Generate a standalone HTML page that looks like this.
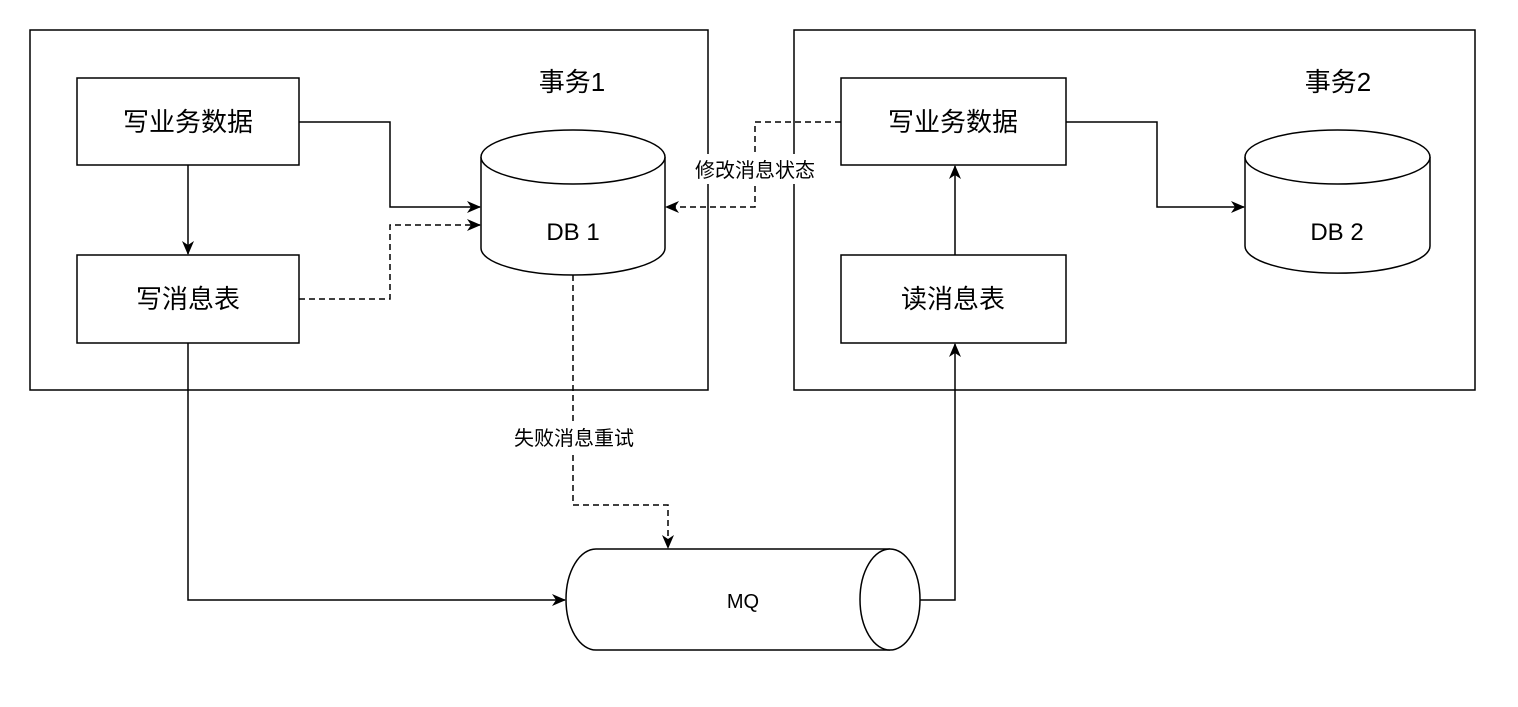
<!DOCTYPE html>
<html><head><meta charset="utf-8"><style>
html,body{margin:0;padding:0;background:#fff;}
text{font-family:"Liberation Sans","Noto Sans CJK SC",sans-serif;fill:#000;}
</style></head><body>
<svg width="1518" height="702" viewBox="0 0 1518 702" xmlns="http://www.w3.org/2000/svg">
<defs>
<marker id="a" markerWidth="14" markerHeight="12" refX="13" refY="6" orient="auto" markerUnits="userSpaceOnUse">
<path d="M0,0 L14,6 L0,12 L4,6 Z" fill="#000"/></marker>
</defs>
<g fill="none" stroke="#000" stroke-width="1.5">
<rect x="30" y="30" width="678" height="360"/>
<rect x="794" y="30" width="681" height="360"/>
<rect x="77" y="78" width="222" height="87" fill="#fff"/>
<rect x="77" y="255" width="222" height="88" fill="#fff"/>
<rect x="841" y="78" width="225" height="87" fill="#fff"/>
<rect x="841" y="255" width="225" height="88" fill="#fff"/>
<path d="M481,157 L481,248 A92,27 0 0 0 665,248 L665,157" fill="#fff"/>
<ellipse cx="573" cy="157" rx="92" ry="27" fill="#fff"/>
<path d="M1245,157 L1245,246 A92,27 0 0 0 1430,246 L1430,157" fill="#fff"/>
<ellipse cx="1337.5" cy="157" rx="92.5" ry="27" fill="#fff"/>
<path d="M890,549 L596,549 A30,50.5 0 0 0 596,650 L890,650" fill="#fff"/>
<ellipse cx="890" cy="599.5" rx="30" ry="50.5" fill="#fff"/>
<polyline points="299,122 390,122 390,207 480,207" marker-end="url(#a)"/>
<polyline points="299,299 390,299 390,225 480,225" stroke-dasharray="6,4" marker-end="url(#a)"/>
<polyline points="188,165 188,254" marker-end="url(#a)"/>
<polyline points="188,343 188,600 565,600" marker-end="url(#a)"/>
<polyline points="573,275 573,505 668,505 668,548" stroke-dasharray="6,4" marker-end="url(#a)"/>
<polyline points="841,122 755,122 755,207 666,207" stroke-dasharray="6,4" marker-end="url(#a)"/>
<polyline points="1066,122 1157,122 1157,207 1244,207" marker-end="url(#a)"/>
<polyline points="955,255 955,166" marker-end="url(#a)"/>
<polyline points="920,600 955,600 955,344" marker-end="url(#a)"/>
</g>
<rect x="680" y="154" width="150" height="30" fill="#fff"/>
<rect x="500" y="422" width="148" height="30" fill="#fff"/>
<g font-size="26" text-anchor="middle">
<text x="572" y="91">事务1</text>
<text x="1338" y="91">事务2</text>
<text x="188" y="131">写业务数据</text>
<text x="188" y="308">写消息表</text>
<text x="953" y="131">写业务数据</text>
<text x="953" y="308">读消息表</text>
<text x="573" y="240" font-size="24">DB 1</text>
<text x="1337" y="240" font-size="24">DB 2</text>
<text x="743" y="608" font-size="20">MQ</text>
</g>
<g font-size="20" text-anchor="middle">
<text x="755" y="177">修改消息状态</text>
<text x="574" y="445">失败消息重试</text>
</g>
</svg>
</body></html>
